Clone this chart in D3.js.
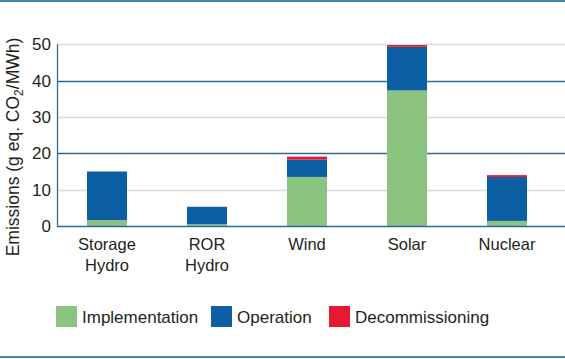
<!DOCTYPE html>
<html><head><meta charset="utf-8">
<script src="https://cdn.jsdelivr.net/npm/d3@7"></script>
<style>body{margin:0;background:#fff}svg{display:block}text{font-family:"Liberation Sans",Arial,sans-serif;fill:#231f20}.narrow{font-family:"Liberation Sans Narrow","Liberation Sans",Arial,sans-serif}</style>
</head><body>
<svg id="c" width="565" height="359"></svg>
<script>
const categories = [["Storage","Hydro"],["ROR","Hydro"],["Wind"],["Solar"],["Nuclear"]];
const seriesNames = ["Implementation","Operation","Decommissioning"];
const implementation = [1.6, 0.5, 13.5, 37.3, 1.4];
const operation = [13.4, 4.8, 4.8, 12.0, 12.1];
const decommissioning = [0, 0, 0.8, 0.5, 0.5];
const yTicks = [0,10,20,30,40,50];
const colors = ["#8ac480","#0c5fa3","#e6192e"];

const svg = d3.select("#c");
svg.append("rect").attr("x",0).attr("y",0).attr("width",565).attr("height",2).attr("fill","#4587a6");
svg.append("rect").attr("x",0).attr("y",356).attr("width",565).attr("height",2).attr("fill","#4587a6");

const x = d3.scaleBand().domain(categories.map((d,i)=>i)).range([57,557]).paddingInner(0.6).paddingOuter(0.3);
const y = d3.scaleLinear().domain([0,50]).range([226,44.3]);

// gridlines
svg.append("g").selectAll("line").data(yTicks.filter(t=>t>0)).join("line")
  .attr("x1",57).attr("x2",565).attr("y1",d=>Math.round(y(d))+0.5).attr("y2",d=>Math.round(y(d))+0.5)
  .attr("stroke",d=>d%20===0?"#2f6a9c":"#d9d9e2").attr("stroke-width",d=>d%20===0?1.3:1.5);

// stacked bars
const table = categories.map((c,i)=>({i, Implementation:implementation[i], Operation:operation[i], Decommissioning:decommissioning[i]}));
const stack = d3.stack().keys(seriesNames)(table);
svg.append("g").selectAll("g").data(stack).join("g").attr("fill",(d,k)=>colors[k])
  .selectAll("rect").data(d=>d).join("rect")
  .attr("x",d=>x(d.data.i)).attr("width",x.bandwidth())
  .attr("y",d=>y(d[1])).attr("height",d=>y(d[0])-y(d[1]));

// axes lines
svg.append("line").attr("x1",57.5).attr("x2",57.5).attr("y1",y(50)).attr("y2",227).attr("stroke","#2f6a9c").attr("stroke-width",1.3);
svg.append("line").attr("x1",57).attr("x2",565).attr("y1",226.5).attr("y2",226.5).attr("stroke","#2f6a9c").attr("stroke-width",1.5);

// y tick labels
svg.append("g").selectAll("text").data(yTicks).join("text").attr("class","narrow")
  .attr("x",51).attr("y",d=>y(d)+6).attr("text-anchor","end").attr("font-size",17).text(d=>d);

// x labels
const xl = svg.append("g").selectAll("text").data(categories.map((c,i)=>({c,i}))).join("text").attr("class","narrow")
  .attr("text-anchor","middle").attr("font-size",16.5).attr("y",250);
xl.selectAll("tspan").data(d=>d.c.map(t=>({t,i:d.i}))).join("tspan")
  .attr("x",d=>x(d.i)+x.bandwidth()/2).attr("dy",(d,k)=>k===0?0:21).text(d=>d.t);

// y title
const yt = svg.append("text").attr("class","narrow").attr("transform","translate(19,147) rotate(-90)").attr("text-anchor","middle").attr("font-size",17.5);
yt.append("tspan").text("Emissions (g eq. CO");
yt.append("tspan").attr("font-size",12).attr("dy",4).text("2");
yt.append("tspan").attr("dy",-4).text("/MWh)");

// legend
const legX = [56,211,329];
const lg = svg.append("g").selectAll("g").data(seriesNames).join("g")
  .attr("transform",(d,k)=>`translate(${legX[k]},306)`);
lg.append("rect").attr("width",21).attr("height",21).attr("fill",(d,k)=>colors[k]);
lg.append("text").attr("x",26).attr("y",17).attr("font-size",17).text(d=>d);
</script>
</body></html>
